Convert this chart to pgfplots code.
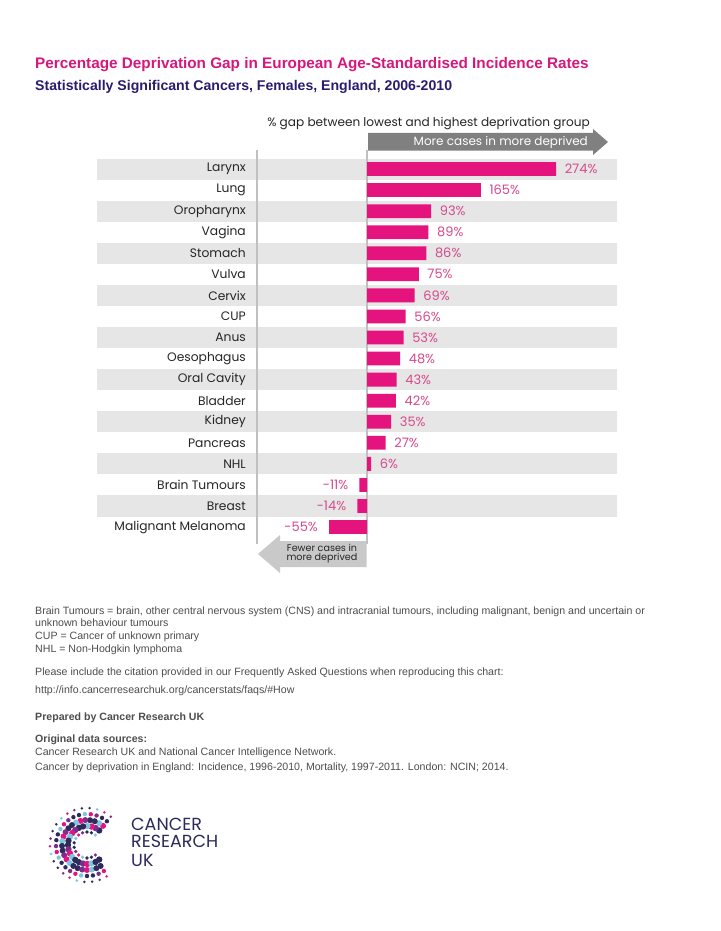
\documentclass[border=0pt]{standalone}
\usepackage{pgfplots}
\pgfplotsset{compat=1.18}
\usepackage{fontspec}
\setmainfont{Liberation Sans}
\newfontfamily\chartfont{Poppins}
\definecolor{barpink}{HTML}{E5137D}
\definecolor{valpink}{HTML}{D54A8C}
\definecolor{titlepink}{HTML}{D6177D}
\definecolor{subnavy}{HTML}{2A1D6E}
\definecolor{bandgray}{HTML}{E6E6E6}
\definecolor{linegray}{HTML}{C0C0C0}
\definecolor{arrowgray}{HTML}{808080}
\definecolor{fewergray}{HTML}{C9C9C9}
\definecolor{notegray}{HTML}{4D4D4D}
\definecolor{logonavy}{HTML}{2D2A5C}
\definecolor{logoblue}{HTML}{7FC6E0}
\definecolor{logopurple}{HTML}{7A2E8E}
\begin{document}
\begin{tikzpicture}[x=1pt,y=1pt]
\useasboundingbox[fill=white] (0,0) rectangle (720,-931);
% titles
\node[anchor=base west,inner sep=0,text=titlepink,font=\bfseries\fontsize{15.3}{18}\selectfont] at (35,-68.3) {Percentage Deprivation Gap in European Age-Standardised Incidence Rates};
\node[anchor=base west,inner sep=0,text=subnavy,font=\bfseries\fontsize{14.1}{16}\selectfont] at (35,-90.7) {Statistically Significant Cancers, Females, England, 2006-2010};
% header arrow
\node[anchor=east,inner sep=0,font=\chartfont\fontsize{12.1}{14}\selectfont,text=black!85] at (590,-124) {\% gap between lowest and highest deprivation group};
\fill[arrowgray] (368,-133) -- (593,-133) -- (593,-129) -- (608,-142) -- (593,-155) -- (593,-150.5) -- (368,-150.5) -- cycle;
\node[anchor=east,inner sep=0,text=white,font=\chartfont\fontsize{12}{14}\selectfont] at (588,-142) {More cases in more deprived};
% row bands
\foreach \i in {0,2,...,16} {
  \fill[bandgray] (97,{-158.5-21.06*\i}) rectangle (617,{-179.56-21.06*\i});
}
% left guide line
\draw[linegray,line width=1.2] (257,-150) -- (257,-544);
% fewer arrow
\fill[fewergray] (366.5,-541) -- (280,-541) -- (280,-535) -- (258,-554) -- (280,-573) -- (280,-567) -- (366.5,-567) -- cycle;
\node[align=center,inner sep=0,font=\chartfont\fontsize{9.6}{9}\selectfont,text=black!85] at (322,-553.5) {Fewer cases in\\more deprived};
\coordinate (axNW) at (97,-158.5);
\begin{axis}[
  at={(axNW)}, anchor=north west,
  scale only axis, width=520pt, height=379.08pt,
  xmin=-391.30, xmax=362.32, ymin=-0.5, ymax=17.5,
  y dir=reverse, xbar, bar width=0.655, bar shift=0pt,
  axis line style={draw=none}, major tick length=0pt,
  xtick=\empty, ytick={0,...,17},
  yticklabels={Larynx,Lung,Oropharynx,Vagina,Stomach,Vulva,Cervix,CUP,Anus,Oesophagus,Oral Cavity,Bladder,Kidney,Pancreas,NHL,Brain Tumours,Breast,Malignant Melanoma},
  yticklabel style={anchor=east,inner sep=0pt,xshift=149pt,font=\chartfont\fontsize{12.3}{14}\selectfont,text=black!85},
  clip=false,
  point meta=x,
  nodes near coords={\pgfmathprintnumber[assume math mode=true]{\pgfplotspointmeta}\%},
  every node near coord/.append style={font=\chartfont\fontsize{13}{15}\selectfont,text=valpink,inner sep=0pt},
]
\draw[linegray,line width=1.2] (axis cs:0,-0.9) -- (axis cs:0,17.8);
\addplot[fill=barpink,draw=none,every node near coord/.append style={anchor=west,xshift=8.5pt}] coordinates {
(274,0) (165,1) (93,2) (89,3) (86,4) (75,5) (69,6) (56,7) (53,8) (48,9) (43,10) (42,11) (35,12) (27,13) (6,14)};
\addplot[fill=barpink,draw=none,every node near coord/.append style={anchor=east,xshift=-11pt}] coordinates {
(-11,15) (-14,16) (-55,17)};
\end{axis}
% footnotes
\begin{scope}[every node/.style={anchor=base west,inner sep=0,text=notegray,font=\fontsize{10.6}{12}\selectfont}]
\node at (35,-614) {Brain Tumours = brain, other central nervous system (CNS) and intracranial tumours, including malignant, benign and uncertain or};
\node at (35,-626.7) {unknown behaviour tumours};
\node at (35,-639.3) {CUP = Cancer of unknown primary};
\node at (35,-652) {NHL = Non-Hodgkin lymphoma};
\node at (35,-675) {Please include the citation provided in our Frequently Asked Questions when reproducing this chart:};
\node at (35,-693) {http://info.cancerresearchuk.org/cancerstats/faqs/\#How};
\node[font=\bfseries\fontsize{10.6}{12}\selectfont] at (35,-720) {Prepared by Cancer Research UK};
\node[font=\bfseries\fontsize{10.6}{12}\selectfont] at (35,-742) {Original data sources:};
\node at (35,-755) {Cancer Research UK and National Cancer Intelligence Network.};
\node at (35,-770) {Cancer by deprivation in England: Incidence, 1996-2010, Mortality, 1997-2011. London: NCIN; 2014.};
\end{scope}
% logo
\foreach \r/\s/\st in {37/1.4/12, 31/2.2/11, 25/3.0/11, 19/3.2/13, 13/1.8/20} {
  \pgfmathtruncatemacro\n{260/\st}
  \foreach \j in {0,...,\n} {
    \pgfmathsetmacro\a{50+\j*\st}
    \pgfmathtruncatemacro\c{mod(\j*3+\r,5)}
    \ifcase\c \def\col{barpink}\or \def\col{logonavy}\or \def\col{logopurple}\or \def\col{logoblue}\or \def\col{logonavy}\fi
    \fill[\col] ({87+\r*cos(\a)},{-845+\r*sin(\a)}) circle (\s);
  }
}
\begin{scope}[every node/.style={anchor=base west,inner sep=0,font=\chartfont\fontsize{17.5}{18}\selectfont,text=logonavy}]
\node at (131,-830) {CANCER};
\node at (131,-847.7) {RESEARCH};
\node at (131,-866) {UK};
\end{scope}
\end{tikzpicture}
\end{document}
